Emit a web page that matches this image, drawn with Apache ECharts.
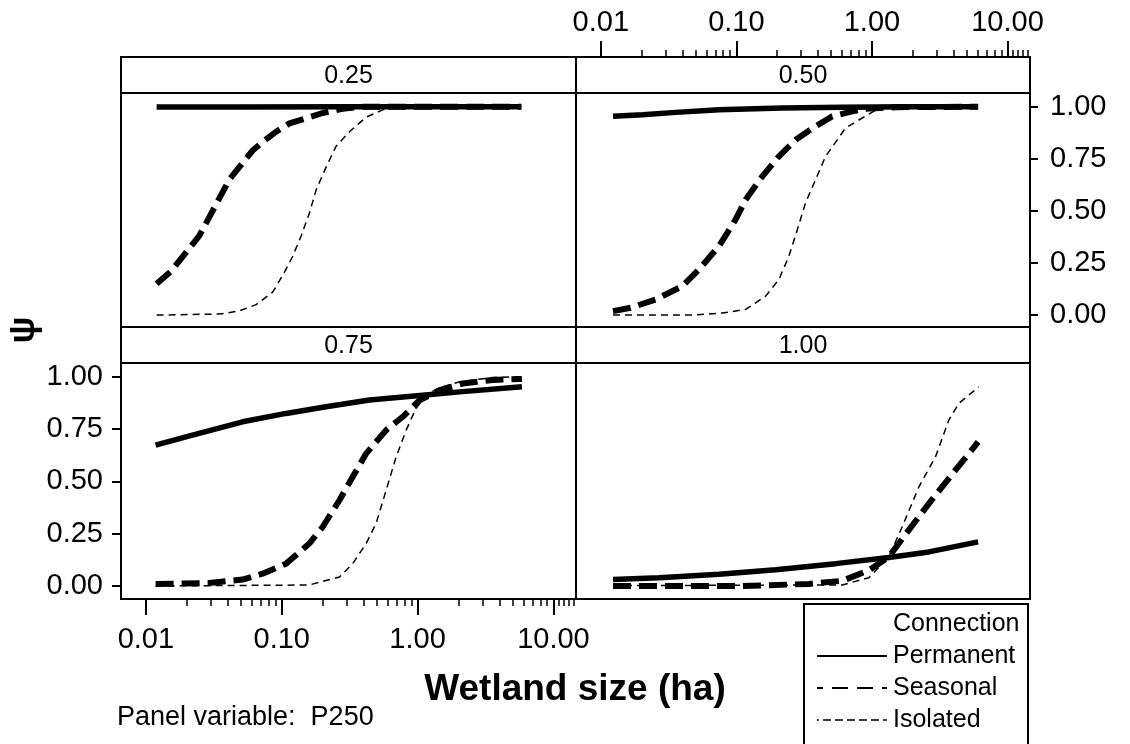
<!DOCTYPE html>
<html>
<head>
<meta charset="utf-8">
<script src="https://cdn.jsdelivr.net/npm/echarts@6/dist/echarts.min.js"></script>
<style>
  html, body { margin: 0; padding: 0; background: #ffffff; }
  #chart { width: 1130px; height: 744px; }
</style>
</head>
<body>
<div id="chart"></div>
<script>
// Panel levels (P250) and connection classes
const panelLevels = ['0.25', '0.50', '0.75', '1.00'];
const connectionTypes = ['Permanent', 'Seasonal', 'Isolated'];

// Axis ticks: wetland size (ha) on a log scale, occupancy psi
const sizeTickValues = [0.01, 0.1, 1, 10];
const sizeMinorTicks = [0.02, 0.03, 0.04, 0.05, 0.06, 0.07, 0.08, 0.09,
                        0.2, 0.3, 0.4, 0.5, 0.6, 0.7, 0.8, 0.9,
                        2, 3, 4, 5, 6, 7, 8, 9, 11, 12, 13, 14];
const psiTicks = [0, 0.25, 0.5, 0.75, 1];

// Curves as [wetland size (ha), psi]
// P250 = 0.25
const permanentP025 = [[0.012, 0.999], [0.05, 0.999], [0.3, 1.0], [1.0, 1.0], [5.8, 1.0]];
const seasonalP025 = [[0.012, 0.15], [0.0153, 0.21], [0.0181, 0.27], [0.0247, 0.38], [0.0293, 0.47],
                      [0.0347, 0.56], [0.0411, 0.65], [0.0515, 0.73], [0.0611, 0.79], [0.0723, 0.83],
                      [0.0908, 0.88], [0.114, 0.92], [0.16, 0.95], [0.2, 0.97], [0.28, 0.99],
                      [0.39, 1.0], [1.0, 1.0], [5.8, 1.0]];
const isolatedP025 = [[0.012, 0.0], [0.035, 0.005], [0.0487, 0.02], [0.0647, 0.05], [0.0857, 0.11],
                      [0.1016, 0.19], [0.12, 0.28], [0.139, 0.38], [0.16, 0.49], [0.179, 0.6],
                      [0.212, 0.71], [0.251, 0.81], [0.315, 0.88], [0.418, 0.95], [0.554, 0.985],
                      [0.653, 1.0], [5.8, 1.0]];
// P250 = 0.50
const permanentP050 = [[0.0123, 0.954], [0.0203, 0.962], [0.0357, 0.973], [0.0745, 0.986], [0.218, 0.994],
                       [0.604, 0.998], [1.87, 1.0], [6.07, 1.0]];
const seasonalP050 = [[0.0123, 0.019], [0.0166, 0.035], [0.0254, 0.075], [0.04, 0.139], [0.053, 0.219],
                      [0.0744, 0.331], [0.0988, 0.459], [0.117, 0.554], [0.1555, 0.666], [0.206, 0.762],
                      [0.274, 0.842], [0.384, 0.906], [0.509, 0.954], [0.716, 0.978], [0.897, 0.99],
                      [1.5, 0.998], [6.07, 1.0]];
const isolatedP050 = [[0.0123, 0.0], [0.0488, 0.0], [0.0788, 0.01], [0.117, 0.027], [0.1645, 0.091],
                      [0.206, 0.171], [0.244, 0.283], [0.282, 0.411], [0.324, 0.539], [0.384, 0.65],
                      [0.455, 0.762], [0.524, 0.818], [0.638, 0.898], [0.849, 0.946], [1.03, 0.978],
                      [1.19, 0.993], [2.0, 1.0], [6.07, 1.0]];
// P250 = 0.75
const permanentP075 = [[0.0118, 0.673], [0.0197, 0.713], [0.0515, 0.785], [0.1076, 0.825], [0.212, 0.857],
                       [0.442, 0.889], [1.09, 0.912], [2.04, 0.928], [5.86, 0.952]];
const seasonalP075 = [[0.0118, 0.01], [0.0292, 0.014], [0.0515, 0.031], [0.0723, 0.059], [0.1076, 0.107],
                      [0.1595, 0.203], [0.2, 0.282], [0.266, 0.41], [0.333, 0.522], [0.418, 0.633],
                      [0.587, 0.745], [0.778, 0.809], [1.034, 0.888], [1.45, 0.936], [2.15, 0.968],
                      [3.58, 0.985], [5.86, 0.99]];
const isolatedP075 = [[0.0118, 0.0], [0.1595, 0.005], [0.266, 0.043], [0.333, 0.107], [0.418, 0.203],
                      [0.495, 0.299], [0.587, 0.458], [0.695, 0.617], [0.824, 0.745], [0.975, 0.85],
                      [1.156, 0.912], [1.45, 0.948], [2.04, 0.976], [3.58, 0.997], [5.86, 1.0]];
// P250 = 1.00
const permanentP100 = [[0.0123, 0.031], [0.0269, 0.04], [0.0744, 0.056], [0.195, 0.078], [0.54, 0.107],
                       [1.33, 0.136], [2.63, 0.163], [6.07, 0.211]];
const seasonalP100 = [[0.0123, 0.0], [0.1106, 0.0], [0.343, 0.01], [0.604, 0.025], [0.949, 0.075],
                      [1.33, 0.139], [1.87, 0.267], [2.63, 0.394], [4.13, 0.554], [5.18, 0.633],
                      [6.07, 0.689]];
const isolatedP100 = [[0.0123, 0.002], [0.604, 0.005], [0.949, 0.04], [1.33, 0.139], [1.67, 0.282],
                      [2.22, 0.474], [2.94, 0.617], [3.69, 0.793], [4.37, 0.873], [6.14, 0.952]];

const panelCurves = [
  [permanentP025, seasonalP025, isolatedP025],
  [permanentP050, seasonalP050, isolatedP050],
  [permanentP075, seasonalP075, isolatedP075],
  [permanentP100, seasonalP100, isolatedP100]
];

// ---------------------------------------------------------------------------
const FONT = "'Liberation Sans', Arial, Helvetica, sans-serif";
const LOG_MIN = -2.183, LOG_MAX = 1.166;   // x extent in log10(ha)
const PSI_MIN = -0.062, PSI_MAX = 1.066;

// panel rectangles: top-left, top-right, bottom-left, bottom-right
const panels = [
  { left: 121, top: 93,  width: 455, height: 235 },
  { left: 576, top: 93,  width: 454, height: 235 },
  { left: 121, top: 363, width: 455, height: 236 },
  { left: 576, top: 363, width: 454, height: 236 }
];
const STRIP_H = 36;

const lineStyles = {
  Permanent: { color: '#000', width: 5.5, type: 'solid' },
  Seasonal:  { color: '#000', width: 6,   type: [18, 8] },
  Isolated:  { color: '#000', width: 1.5, type: [7, 5] }
};

const toLog = pts => pts.map(([ha, psi]) => [Math.log10(ha), psi]);
const sizeLabel = v => Math.pow(10, v).toFixed(2);

const grids = panels.map(p => Object.assign({
  show: true, borderColor: '#000', borderWidth: 2, backgroundColor: '#fff',
  containLabel: false, outerBoundsMode: 'none'
}, p));
// overlay grids carrying the short (minor) ticks of the two visible x axes
grids.push(Object.assign({ show: false, containLabel: false, outerBoundsMode: 'none' }, panels[1]));
grids.push(Object.assign({ show: false, containLabel: false, outerBoundsMode: 'none' }, panels[2]));

const hiddenLine = { show: false, onZero: false };

function xAxisBase(gridIndex) {
  return {
    type: 'value', gridIndex, min: LOG_MIN, max: LOG_MAX,
    splitLine: { show: false }, axisLine: hiddenLine,
    axisTick: { show: false }, axisLabel: { show: false }
  };
}
function yAxisBase(gridIndex) {
  return {
    type: 'value', gridIndex, min: PSI_MIN, max: PSI_MAX,
    splitLine: { show: false }, axisLine: hiddenLine,
    axisTick: { show: false }, axisLabel: { show: false }
  };
}

const majorLog = sizeTickValues.map(Math.log10);
const minorLog = sizeMinorTicks.map(Math.log10);
const tickLabelStyle = { color: '#000', fontSize: 29, fontFamily: FONT };

const xAxes = [
  Object.assign(xAxisBase(0), { show: false }),
  Object.assign(xAxisBase(1), {
    position: 'top', offset: STRIP_H,
    axisLine: { show: true, onZero: false, lineStyle: { color: '#000', width: 2 } },
    axisTick: { show: true, length: 16, lineStyle: { color: '#000', width: 2 }, customValues: majorLog },
    axisLabel: Object.assign({ show: true, margin: 20, customValues: majorLog, formatter: sizeLabel }, tickLabelStyle)
  }),
  Object.assign(xAxisBase(2), {
    position: 'bottom',
    axisTick: { show: true, length: 16, lineStyle: { color: '#000', width: 2 }, customValues: majorLog },
    axisLabel: Object.assign({ show: true, margin: 26, customValues: majorLog, formatter: sizeLabel }, tickLabelStyle)
  }),
  Object.assign(xAxisBase(3), { show: false }),
  Object.assign(xAxisBase(4), {
    position: 'top', offset: STRIP_H,
    axisTick: { show: true, length: 7, lineStyle: { color: '#000', width: 1.5 }, customValues: minorLog }
  }),
  Object.assign(xAxisBase(5), {
    position: 'bottom',
    axisTick: { show: true, length: 7, lineStyle: { color: '#000', width: 1.5 }, customValues: minorLog }
  })
];

const yAxes = [
  Object.assign(yAxisBase(0), { show: false }),
  Object.assign(yAxisBase(1), {
    position: 'right',
    axisTick: { show: true, length: 8, lineStyle: { color: '#000', width: 2 }, customValues: psiTicks },
    axisLabel: Object.assign({ show: true, margin: 20, customValues: psiTicks, formatter: v => v.toFixed(2) }, tickLabelStyle)
  }),
  Object.assign(yAxisBase(2), {
    position: 'left',
    axisTick: { show: true, length: 9, lineStyle: { color: '#000', width: 2 }, customValues: psiTicks },
    axisLabel: Object.assign({ show: true, margin: 18, customValues: psiTicks, formatter: v => v.toFixed(2) }, tickLabelStyle)
  }),
  Object.assign(yAxisBase(3), { show: false }),
  Object.assign(yAxisBase(4), { show: false }),
  Object.assign(yAxisBase(5), { show: false })
];

const series = [];
panelCurves.forEach((curves, pi) => {
  curves.forEach((pts, ci) => {
    const name = connectionTypes[ci];
    series.push({
      type: 'line', name, xAxisIndex: pi, yAxisIndex: pi,
      data: toLog(pts), symbol: 'none', showSymbol: false, silent: true,
      lineStyle: lineStyles[name], z: 2 + ci, animation: false
    });
  });
});

// strips with panel level labels
const graphics = [];
panels.forEach((p, i) => {
  const y = p.top - STRIP_H;
  graphics.push({
    type: 'rect', silent: true, z: 10,
    shape: { x: p.left, y, width: p.width, height: STRIP_H },
    style: { fill: '#fff', stroke: '#000', lineWidth: 2 }
  });
  graphics.push({
    type: 'text', silent: true, z: 11,
    x: p.left + p.width / 2, y: y + STRIP_H / 2 + 1,
    style: { text: panelLevels[i], fill: '#000', font: '25px ' + FONT, align: 'center', verticalAlign: 'middle' }
  });
});

// axis titles and footnote
graphics.push({
  type: 'text', silent: true, x: 575, y: 690,
  style: { text: 'Wetland size (ha)', fill: '#000', font: 'bold 37px ' + FONT, align: 'center', verticalAlign: 'middle' }
});
graphics.push({
  type: 'text', silent: true, x: 24, y: 330, rotation: Math.PI / 2,
  style: { text: 'ψ', fill: '#000', font: 'bold 36px ' + FONT, align: 'center', verticalAlign: 'middle' }
});
graphics.push({
  type: 'text', silent: true, x: 117, y: 718,
  style: { text: 'Panel variable:  P250', fill: '#000', font: '27px ' + FONT, align: 'left', verticalAlign: 'middle' }
});

// legend box
const legendLeft = 804, legendTop = 604;
graphics.push({
  type: 'rect', silent: true,
  shape: { x: legendLeft, y: legendTop, width: 224, height: 170 },
  style: { fill: '#fff', stroke: '#000', lineWidth: 2 }
});
graphics.push({
  type: 'text', silent: true, x: 893, y: 624,
  style: { text: 'Connection', fill: '#000', font: '25px ' + FONT, align: 'left', verticalAlign: 'middle' }
});
const legendSwatch = {
  Permanent: { lineWidth: 2, lineDash: null },
  Seasonal:  { lineWidth: 2, lineDash: [16, 9], lineDashOffset: 10 },
  Isolated:  { lineWidth: 1.5, lineDash: [8, 4], lineDashOffset: 6 }
};
connectionTypes.forEach((name, i) => {
  const cy = 656 + i * 32;
  const sw = legendSwatch[name];
  graphics.push({
    type: 'line', silent: true,
    shape: { x1: 817, y1: cy, x2: 887, y2: cy },
    style: { stroke: '#000', lineWidth: sw.lineWidth, lineDash: sw.lineDash, lineDashOffset: sw.lineDashOffset || 0 }
  });
  graphics.push({
    type: 'text', silent: true, x: 893, y: cy,
    style: { text: name, fill: '#000', font: '25px ' + FONT, align: 'left', verticalAlign: 'middle' }
  });
});

const chart = echarts.init(document.getElementById('chart'), null, { renderer: 'canvas' });
chart.setOption({
  backgroundColor: '#fff',
  animation: false,
  grid: grids,
  xAxis: xAxes,
  yAxis: yAxes,
  series,
  graphic: graphics
});
</script>
</body>
</html>
